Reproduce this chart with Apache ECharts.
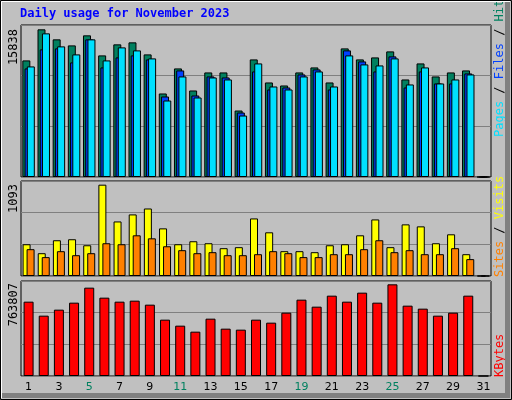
<!DOCTYPE html>
<html><head><meta charset="utf-8">
<script src="https://cdn.jsdelivr.net/npm/echarts@6/dist/echarts.min.js"></script>
<style>html,body{margin:0;padding:0;background:#c0c0c0}#c{width:512px;height:400px}</style>
</head><body><div id="c"></div>
<script>
const days = Array.from({length:31},(_,i)=>String(i+1));
const weekend = ['4','5','11','12','18','19','25','26'];
const hits = [12505,15838,14762,14117,15192,13042,14225,14440,13150,8958,11645,9280,11215,11215,7130,12612,10140,9817,11215,11752,10140,13795,12612,12827,13472,10462,12182,10785,11215,11430,0];
const files = [11645,13687,13795,12290,14762,11752,12827,13042,12612,8635,11430,8742,10785,10677,6915,11322,9387,9602,11000,11537,9387,13580,12397,11322,12935,9602,11322,10032,10032,11107,0];
const pages = [11860,15407,14010,13150,14762,12505,13902,13580,12720,8205,10785,8528,10677,10462,6593,12182,9710,9387,10785,11322,9710,13042,12075,11967,12720,9925,11752,10032,10462,11000,0];
const visits = [380,273,428,440,368,1093,653,737,808,570,380,416,392,333,345,689,523,297,297,285,368,380,487,677,345,618,594,392,499,261,0];
const sites = [321,226,297,249,273,392,380,487,451,356,309,273,285,249,249,261,297,273,226,226,261,261,321,428,285,309,261,261,333,202,0];
const kbytes = [619383,502728,552723,611050,736038,652713,619383,627715,594385,469398,419403,369408,477730,394405,386073,469398,444400,527725,636048,577720,669378,619383,694378,611050,763807,586053,561055,502728,527725,669378,0];
const maxLabels = ['15838','1093','763807'];

const yMax = [16303, 1137, 791582];
const grids = [{top:25,height:152},{top:181,height:95},{top:281,height:95}].map(g=>Object.assign({left:21,width:470,show:true,backgroundColor:'#c0c0c0',borderColor:'#000',borderWidth:1},g));
const xAxis = grids.map((g,i)=>({type:'category',gridIndex:i,data:days,axisTick:{show:false},axisLine:{show:false},
  axisLabel:{show:i===2,margin:6,fontFamily:'DejaVu Sans',fontSize:11,color:(v)=>weekend.includes(v)?'#00805f':'#000'}}));
const yAxis = yMax.map((m,i)=>({type:'value',gridIndex:i,min:0,max:m,interval:m/3,axisLabel:{show:false},axisLine:{show:false},axisTick:{show:false},splitLine:{show:true,lineStyle:{color:'#808080',width:1}}}));
const bs = c=>({color:c,borderColor:'#000',borderWidth:1});
const series = [
 {type:'bar',xAxisIndex:0,yAxisIndex:0,data:hits,barWidth:8,barGap:'-72%',itemStyle:bs('#00805f'),silent:true},
 {type:'bar',xAxisIndex:0,yAxisIndex:0,data:files,barWidth:8,barGap:'-72%',itemStyle:bs('#0040ff'),silent:true},
 {type:'bar',xAxisIndex:0,yAxisIndex:0,data:pages,barWidth:8,barGap:'-72%',itemStyle:bs('#00e0ff'),silent:true},
 {type:'bar',xAxisIndex:1,yAxisIndex:1,data:visits,barWidth:8,barGap:'-50%',itemStyle:bs('#ffff00'),silent:true},
 {type:'bar',xAxisIndex:1,yAxisIndex:1,data:sites,barWidth:8,barGap:'-50%',itemStyle:bs('#ff8000'),silent:true},
 {type:'bar',xAxisIndex:2,yAxisIndex:2,data:kbytes,barWidth:10,itemStyle:bs('#ff0000'),silent:true}
];
const mono = 'DejaVu Sans Mono';
const graphic = [
 {type:'rect',shape:{x:0.5,y:0.5,width:511,height:399},style:{fill:'none',stroke:'#000',lineWidth:1},z:100},
 {type:'polyline',shape:{points:[[1.5,398],[1.5,1.5],[510,1.5]]},style:{stroke:'#fff',lineWidth:1,fill:'none'},z:100},
 {type:'polyline',shape:{points:[[2,395.5],[507.5,395.5],[507.5,2]]},style:{stroke:'#808080',lineWidth:5,fill:'none'},z:99},
 {type:'text',left:20,top:8,style:{text:'Daily usage for November 2023',fill:'#0000ff',font:'bold 12px "'+mono+'"'}},
 {type:'text',x:8,y:29,rotation:Math.PI/2,style:{text:maxLabels[0],fill:'#000',font:'12px "'+mono+'"',align:'right',verticalAlign:'top'}},
 {type:'text',x:8,y:184,rotation:Math.PI/2,style:{text:maxLabels[1],fill:'#000',font:'12px "'+mono+'"',align:'right',verticalAlign:'top'}},
 {type:'text',x:8,y:283,rotation:Math.PI/2,style:{text:maxLabels[2],fill:'#000',font:'12px "'+mono+'"',align:'right',verticalAlign:'top'}},
 {type:'text',x:494,y:137,rotation:Math.PI/2,style:{text:'{p|Pages}{s| / }{f|Files}{s| / }{h|Hits}',align:'left',verticalAlign:'top',font:'12px "'+mono+'"',
   rich:{p:{fill:'#00e0ff',font:'12px "'+mono+'"'},s:{fill:'#000',font:'12px "'+mono+'"'},f:{fill:'#0040ff',font:'12px "'+mono+'"'},h:{fill:'#00805f',font:'12px "'+mono+'"'}}}},
 {type:'text',x:494,y:277,rotation:Math.PI/2,style:{text:'{o|Sites}{s| / }{y|Visits}',align:'left',verticalAlign:'top',font:'12px "'+mono+'"',
   rich:{o:{fill:'#ff8000',font:'12px "'+mono+'"'},s:{fill:'#000',font:'12px "'+mono+'"'},y:{fill:'#ffff00',font:'12px "'+mono+'"'}}}},
 {type:'text',x:494,y:377,rotation:Math.PI/2,style:{text:'KBytes',fill:'#ff0000',align:'left',verticalAlign:'top',font:'12px "'+mono+'"'}}
];
const chart = echarts.init(document.getElementById('c'),null,{renderer:'canvas'});
chart.setOption({animation:false,backgroundColor:'#c0c0c0',grid:grids,xAxis,yAxis,series,graphic});
</script></body></html>
